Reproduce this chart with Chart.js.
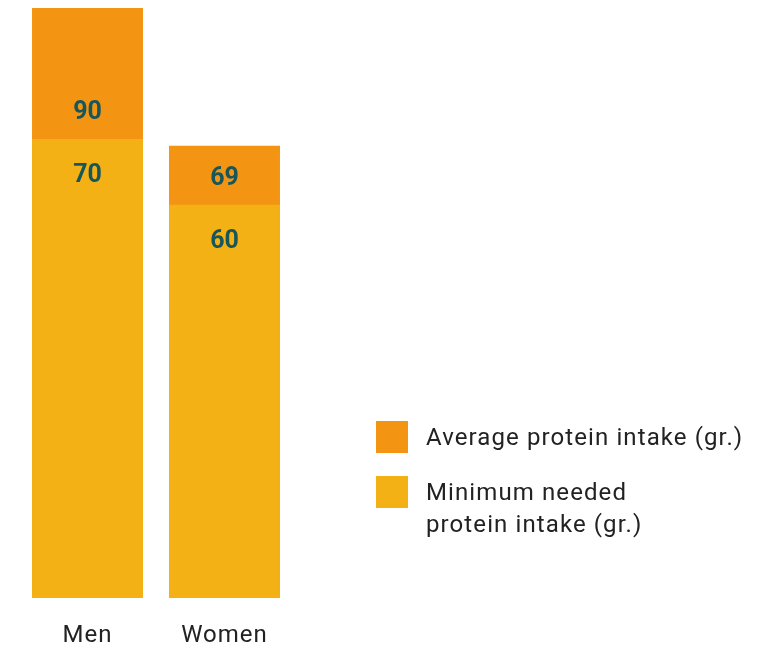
<!DOCTYPE html>
<html><head><meta charset="utf-8">
<script src="https://cdn.jsdelivr.net/npm/chart.js@4"></script>
<style>html,body{margin:0;padding:0;background:#fff;}#wrap{position:relative;width:763px;height:648px;}</style>
</head><body><div id="wrap"><canvas id="c" width="763" height="648"></canvas></div>
<script>
const categories = ["Men", "Women"];
const averageIntake = [90, 69];
const minimumNeeded = [70, 60];
const legendLabels = [["Average protein intake (gr.)"], ["Minimum needed", "protein intake (gr.)"]];
const colAvg = "#F39512";
const colMin = "#F3B115";
const numColor = "#17565A";

const overlay = {
  id: "overlay",
  afterDatasetsDraw(chart) {
    const ctx = chart.ctx, x = chart.scales.x, y = chart.scales.y;
    ctx.save();
    ctx.textAlign = "center"; ctx.textBaseline = "middle";
    ctx.fillStyle = numColor;
    ctx.font = "bold 25px Roboto, 'DejaVu Sans', sans-serif";
    categories.forEach((c, i) => {
      const cx = x.getPixelForValue(i);
      const yb = y.getPixelForValue(minimumNeeded[i]);
      ctx.fillText(String(averageIntake[i]), cx, yb - 26);
      ctx.fillText(String(minimumNeeded[i]), cx, yb + 37);
    });
    ctx.fillStyle = "#222";
    ctx.font = "24px Roboto, 'DejaVu Sans', sans-serif";
    ctx.letterSpacing = "1px";
    categories.forEach((c, i) => {
      ctx.fillText(c, x.getPixelForValue(i), chart.chartArea.bottom + 38);
    });
    // legend
    const cols = [colAvg, colMin];
    const tops = [421, 476];
    ctx.textAlign = "left";
    ctx.font = "24px Roboto, 'DejaVu Sans', sans-serif";
    ctx.letterSpacing = "1.1px";
    tops.forEach((t, k) => {
      ctx.fillStyle = cols[k];
      ctx.fillRect(376, t, 32, 32);
      ctx.fillStyle = "#222";
      legendLabels[k].forEach((ln, j) => ctx.fillText(ln, 426, t + 18 + j * 32));
    });
    ctx.restore();
  }
};

new Chart(document.getElementById("c"), {
  type: "bar",
  data: {
    labels: categories,
    datasets: [
      { label: "Minimum needed protein intake (gr.)", data: minimumNeeded, backgroundColor: colMin, order: 1 },
      { label: "Average protein intake (gr.)", data: averageIntake, backgroundColor: colAvg, order: 2 }
    ]
  },
  options: {
    responsive: false, animation: false,
    layout: { padding: { left: 19, right: 470, top: 8, bottom: 50 } },
    datasets: { bar: { barPercentage: 1, categoryPercentage: 0.81, borderWidth: 0 } },
    scales: {
      x: { display: false, stacked: true },
      y: { display: false, stacked: false, min: 0, max: 90 }
    },
    plugins: { legend: { display: false }, tooltip: { enabled: false } }
  },
  plugins: [overlay]
});
</script></body></html>
